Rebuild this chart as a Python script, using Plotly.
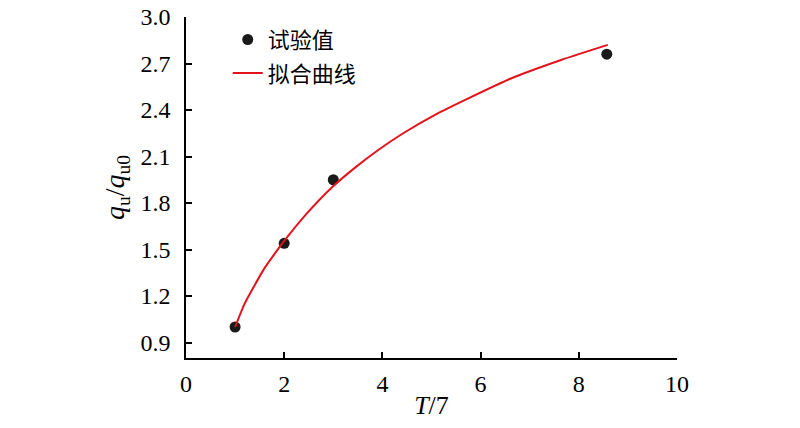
import plotly.graph_objects as go

# Experimental data
test_x = [1.0, 2.0, 3.0, 8.57]
test_y = [1.00, 1.54, 1.95, 2.76]

# Fitted curve
fit_x = [1.0, 1.19, 1.39, 1.59, 1.80, 2.0, 2.44, 2.98, 3.45, 3.93, 4.40, 5.08, 5.75, 6.63, 7.64, 8.59]
fit_y = [1.00, 1.148, 1.265, 1.375, 1.47, 1.555, 1.725, 1.903, 2.03, 2.145, 2.245, 2.37, 2.475, 2.605, 2.723, 2.82]

x_ticks = [0, 2, 4, 6, 8, 10]
y_ticks = [0.9, 1.2, 1.5, 1.8, 2.1, 2.4, 2.7, 3.0]
y_ticklabels = ["0.9", "1.2", "1.5", "1.8", "2.1", "2.4", "2.7", "3.0"]

serif = "Liberation Serif, Times New Roman, serif"
cjk = "Noto Sans CJK SC"

fig = go.Figure()
fig.add_trace(go.Scatter(
    x=test_x, y=test_y, mode="markers", name="试验值", legendgroup="a",
    marker=dict(color="#1a1a1a", size=11),
))
fig.add_trace(go.Scatter(
    x=fit_x, y=fit_y, mode="lines", name="拟合曲线", legendgroup="b",
    line=dict(color="#e3131b", width=2, shape="spline", smoothing=0.6),
))

axis_common = dict(
    showline=True, linecolor="black", linewidth=1.5,
    ticks="inside", ticklen=6, tickwidth=1.5, tickcolor="black",
    showgrid=False, zeroline=False, mirror=False, automargin=False,
    ticklabeloverflow="allow",
    tickfont=dict(family=serif, size=24, color="black"),
)

fig.update_layout(
    width=800, height=428,
    margin=dict(l=178, r=131, t=9, b=78),
    paper_bgcolor="white", plot_bgcolor="white",
    showlegend=True,
    legend=dict(
        x=0.085, y=0.995, xanchor="left", yanchor="top",
        bgcolor="rgba(0,0,0,0)",
        font=dict(family=cjk, size=22, color="black"),
        tracegroupgap=2, itemwidth=30,
    ),
    xaxis=dict(
        range=[0, 10], tickvals=x_ticks, ticklabelstandoff=3,
        title=dict(text="<i>T</i>/7", font=dict(family=serif, size=26, color="black"), standoff=0),
        **axis_common,
    ),
    yaxis=dict(
        range=[0.8, 3.0], tickvals=y_ticks, ticktext=y_ticklabels, ticklabelstandoff=9,
        title=dict(text="<i>q</i><sub>u</sub>/<i>q</i><sub>u0</sub>",
                   font=dict(family=serif, size=28, color="black"), standoff=8),
        **axis_common,
    ),
)

fig.write_html("out.html")
